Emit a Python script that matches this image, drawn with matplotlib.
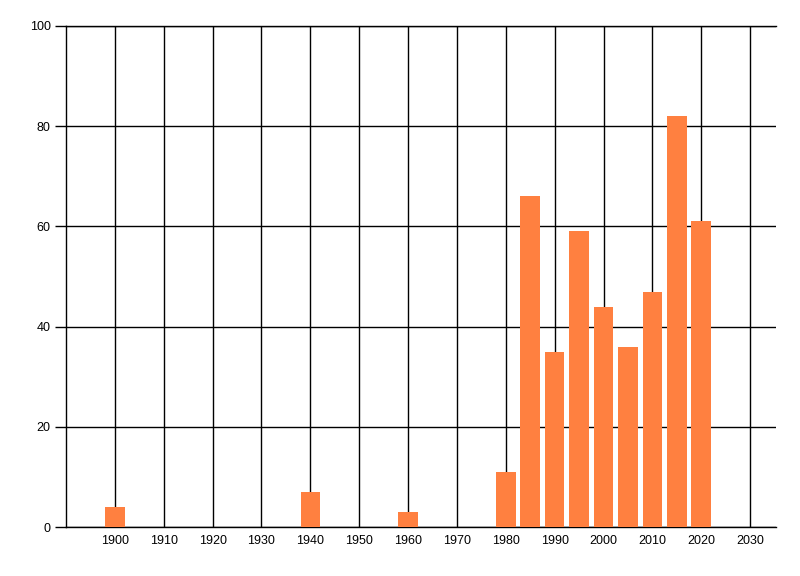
import matplotlib
matplotlib.use('Agg')
import matplotlib.pyplot as plt

years = [1900, 1940, 1960, 1980, 1985, 1990, 1995, 2000, 2005, 2010, 2015, 2020]
counts = [4, 7, 3, 11, 66, 35, 59, 44, 36, 47, 82, 61]
xticks = list(range(1900, 2031, 10))
yticks = [0, 20, 40, 60, 80, 100]

plt.rcParams['font.family'] = 'Liberation Sans'

fig = plt.figure(figsize=(8, 5.76), dpi=100)
ax = fig.add_axes([0.0825, 0.085, 0.8875, 0.8699])

ax.bar(years, counts, width=4, color='#ff8040', zorder=3)

ax.set_xlim(1890, 2035.3)
ax.set_ylim(0, 100)
ax.set_xticks(xticks)
ax.set_yticks(yticks)
ax.grid(True, color='black', linewidth=1, zorder=1)

ax.spines['right'].set_visible(False)
for side in ['top', 'bottom', 'left']:
    ax.spines[side].set_linewidth(1)
    ax.spines[side].set_color('black')

ax.tick_params(axis='x', length=0, pad=6, labelsize=9)
ax.tick_params(axis='y', length=8, width=1, pad=3, labelsize=9)

fig.savefig('out.png', dpi=100)
